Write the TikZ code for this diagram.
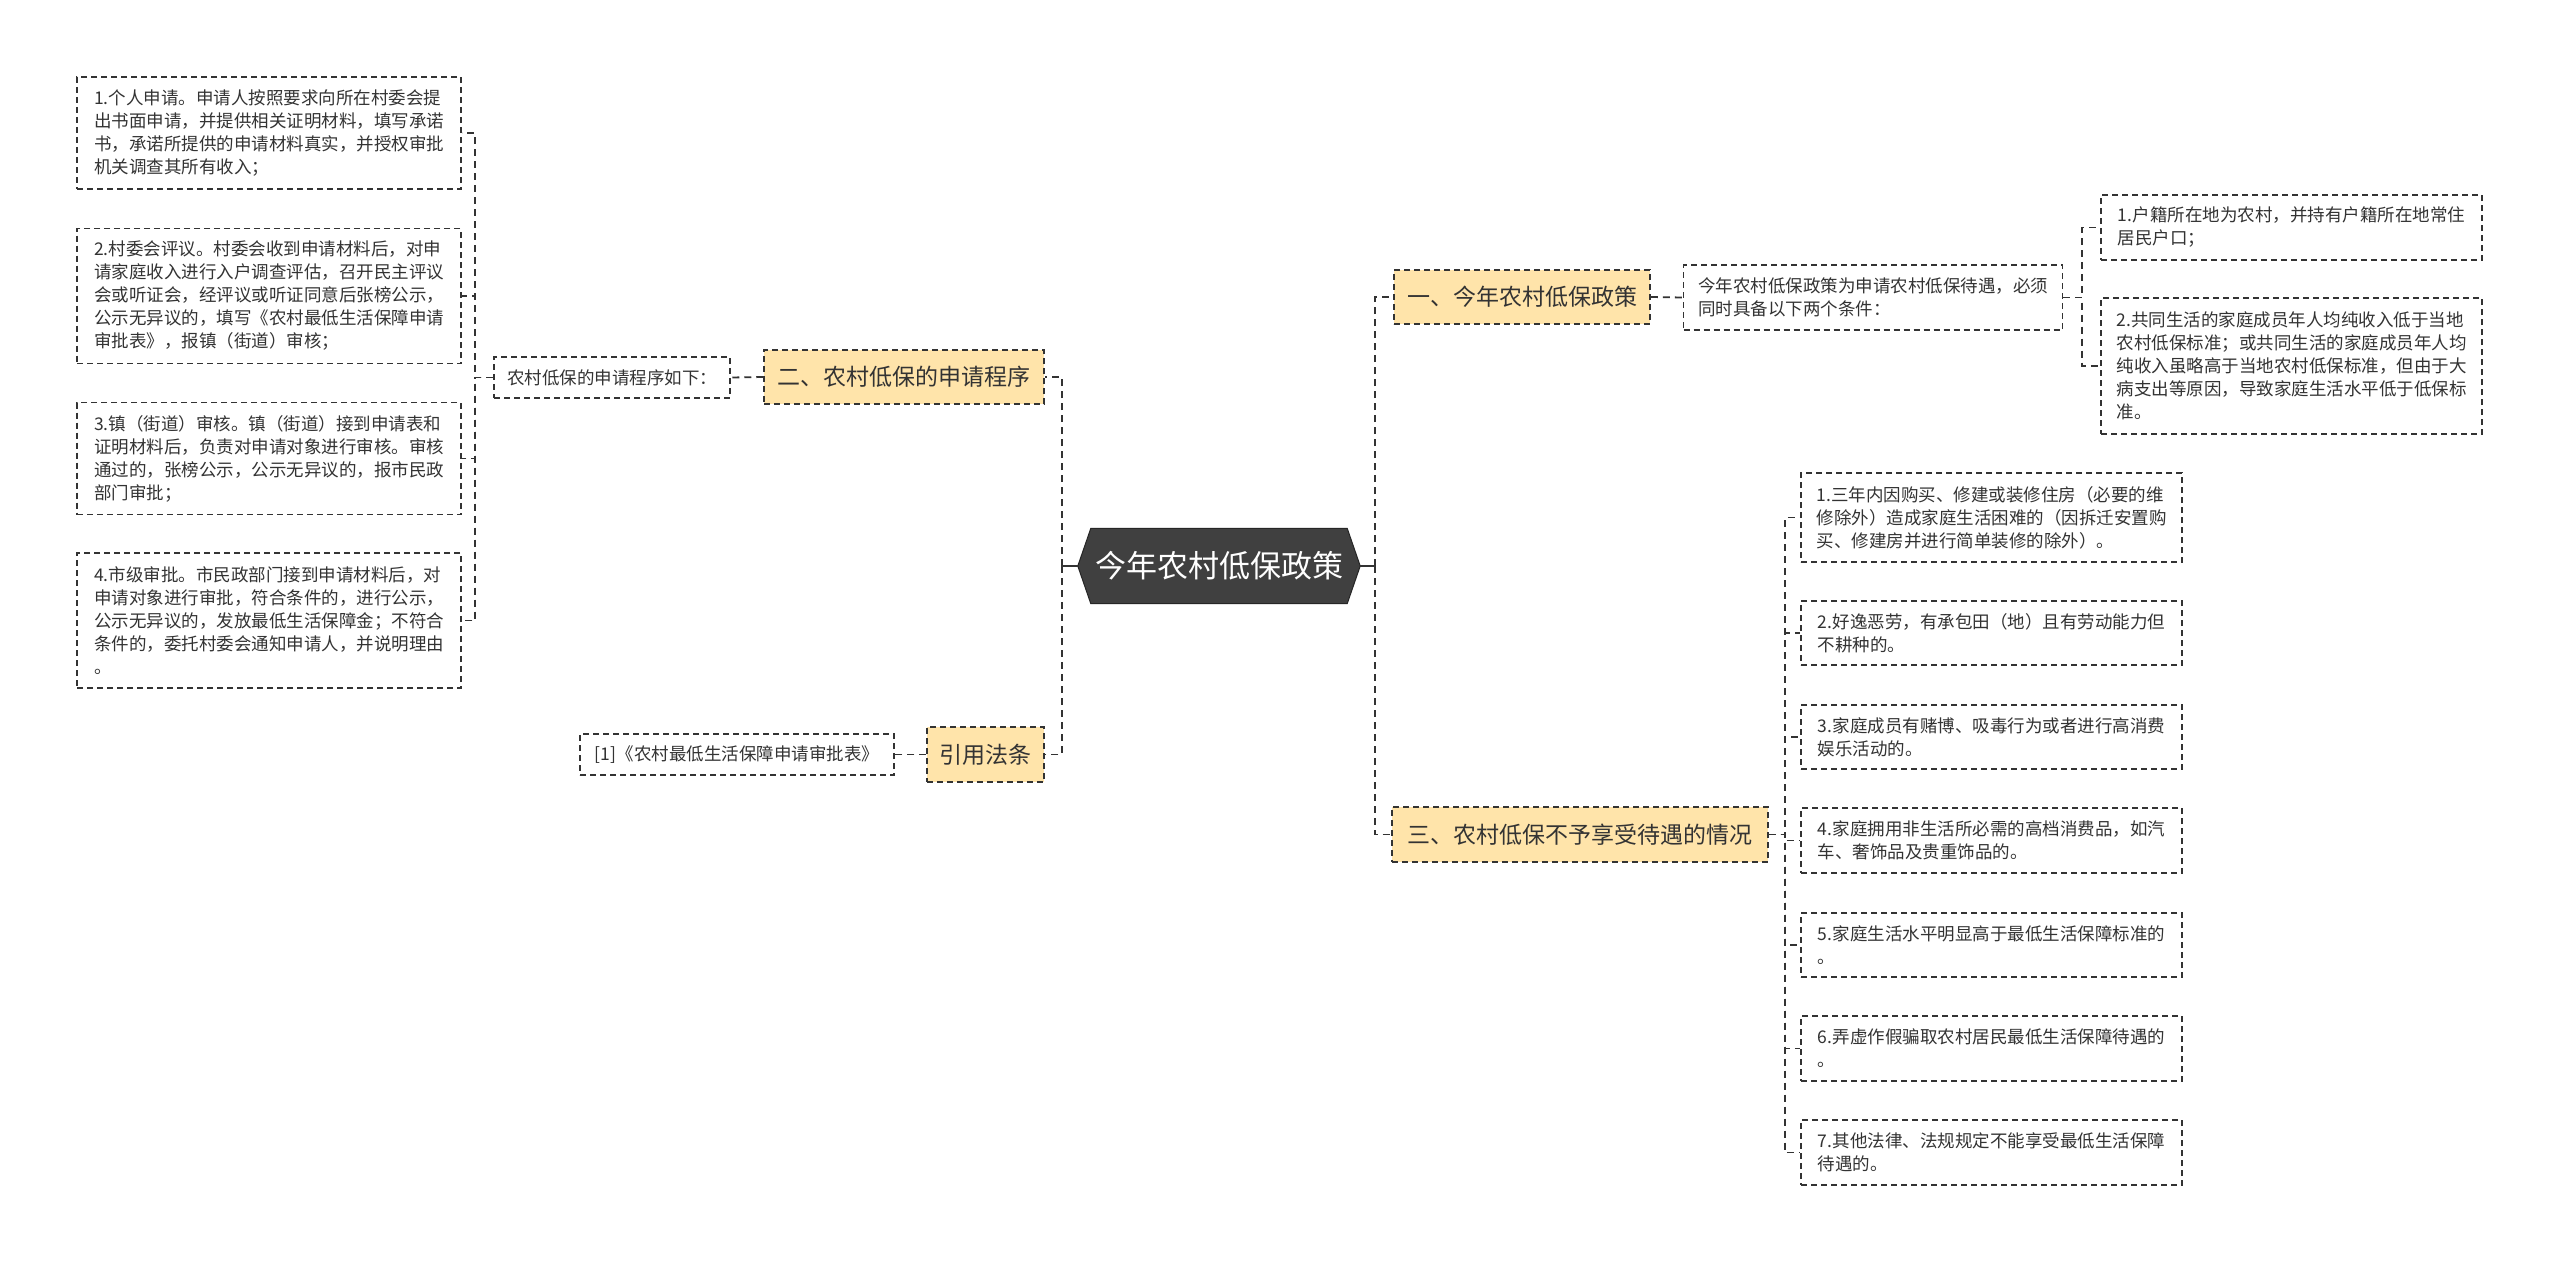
\documentclass[tikz,border=0pt]{standalone}
\usepackage{fontspec}
\setmainfont{Noto Sans CJK SC}
\definecolor{lineC}{HTML}{333333}
\definecolor{hiFill}{RGB}{255,228,170}
\definecolor{rootFill}{HTML}{404040}
\tikzset{
  conn/.style={draw=lineC, line width=1.8pt, dash pattern=on 7pt off 5pt},
  solidconn/.style={draw=lineC, line width=1.8pt},
  leaf/.style={draw=lineC, line width=1.5pt, dash pattern=on 6pt off 4pt, fill=white,
    inner sep=0pt, align=left, text=lineC, font=\fontsize{17.5}{23}\selectfont},
  topic/.style={draw=lineC, line width=1.5pt, dash pattern=on 6pt off 4pt, fill=hiFill,
    inner sep=0pt, align=center, text=lineC, font=\fontsize{23}{28}\selectfont},
}
\begin{document}
\begin{tikzpicture}[x=1pt, y=-1pt]
\useasboundingbox (0,0) rectangle (2560,1263);
\fill[white] (0,0) rectangle (2560,1263);

% root
\node[inner sep=0pt, minimum width=282pt, minimum height=75pt] (root) at (1219,566) {};
\fill[rootFill, draw=black!85, line width=1pt]
  ([xshift=13pt]root.north west) -- ([xshift=-13pt]root.north east) -- (root.east)
  -- ([xshift=-13pt]root.south east) -- ([xshift=13pt]root.south west) -- (root.west) -- cycle;
\node[text=white, font=\fontsize{31}{36}\selectfont] (roottext) at (root.center) {今年农村低保政策};

% left branch
\node[topic, minimum width=280pt, minimum height=54pt] (b2) at (904,377) {二、农村低保的申请程序};
\node[topic, minimum width=117pt, minimum height=55pt] (yin) at (985.5,754.5) {引用法条};
\node[leaf, minimum width=236pt, minimum height=41pt] (xia) at (612,377.5) {农村低保的申请程序如下：};
\node[leaf, minimum width=314pt, minimum height=41pt] (cite) at (737,754.5) {[1]《农村最低生活保障申请审批表》};

\node[leaf, minimum width=384pt, minimum height=112pt] (L1) at (269,133)
 {1.个人申请。申请人按照要求向所在村委会提\\出书面申请，并提供相关证明材料，填写承诺\\书，承诺所提供的申请材料真实，并授权审批\\机关调查其所有收入；};
\node[leaf, minimum width=384pt, minimum height=135pt] (L2) at (269,296)
 {2.村委会评议。村委会收到申请材料后，对申\\请家庭收入进行入户调查评估，召开民主评议\\会或听证会，经评议或听证同意后张榜公示，\\公示无异议的，填写《农村最低生活保障申请\\审批表》，报镇（街道）审核；};
\node[leaf, minimum width=384pt, minimum height=112pt] (L3) at (269,458.5)
 {3.镇（街道）审核。镇（街道）接到申请表和\\证明材料后，负责对申请对象进行审核。审核\\通过的，张榜公示，公示无异议的，报市民政\\部门审批；};
\node[leaf, minimum width=384pt, minimum height=135pt] (L4) at (269,620.5)
 {4.市级审批。市民政部门接到申请材料后，对\\申请对象进行审批，符合条件的，进行公示，\\公示无异议的，发放最低生活保障金；不符合\\条件的，委托村委会通知申请人，并说明理由\\。};

% right branch
\node[topic, minimum width=256pt, minimum height=54pt] (y1) at (1522,297) {一、今年农村低保政策};
\node[topic, minimum width=376pt, minimum height=55pt] (s3) at (1580,834.5) {三、农村低保不予享受待遇的情况};

\node[leaf, minimum width=379pt, minimum height=65pt] (cond) at (1873,297.5)
 {今年农村低保政策为申请农村低保待遇，必须\\同时具备以下两个条件：};
\node[leaf, minimum width=381pt, minimum height=65pt] (c1) at (2291.5,227.5)
 {1.户籍所在地为农村，并持有户籍所在地常住\\居民户口；};
\node[leaf, minimum width=381pt, minimum height=136pt] (c2) at (2291.5,366)
 {2.共同生活的家庭成员年人均纯收入低于当地\\农村低保标准；或共同生活的家庭成员年人均\\纯收入虽略高于当地农村低保标准，但由于大\\病支出等原因，导致家庭生活水平低于低保标\\准。};

\node[leaf, minimum width=381pt, minimum height=89pt] (i1) at (1991.5,517.5)
 {1.三年内因购买、修建或装修住房（必要的维\\修除外）造成家庭生活困难的（因拆迁安置购\\买、修建房并进行简单装修的除外）。};
\node[leaf, minimum width=381pt, minimum height=64pt] (i2) at (1991.5,633)
 {2.好逸恶劳，有承包田（地）且有劳动能力但\\不耕种的。};
\node[leaf, minimum width=381pt, minimum height=64pt] (i3) at (1991.5,737)
 {3.家庭成员有赌博、吸毒行为或者进行高消费\\娱乐活动的。};
\node[leaf, minimum width=381pt, minimum height=65pt] (i4) at (1991.5,840.5)
 {4.家庭拥用非生活所必需的高档消费品，如汽\\车、奢饰品及贵重饰品的。};
\node[leaf, minimum width=381pt, minimum height=64pt] (i5) at (1991.5,945)
 {5.家庭生活水平明显高于最低生活保障标准的\\。};
\node[leaf, minimum width=381pt, minimum height=65pt] (i6) at (1991.5,1048.5)
 {6.弄虚作假骗取农村居民最低生活保障待遇的\\。};
\node[leaf, minimum width=381pt, minimum height=65pt] (i7) at (1991.5,1152.5)
 {7.其他法律、法规规定不能享受最低生活保障\\待遇的。};

% connectors
\draw[solidconn] (root.west) -- ++(-16,0) coordinate (spl);
\draw[conn] (spl) |- (b2.east);
\draw[conn] (spl) |- (yin.east);
\draw[conn] (b2.west) -- (xia.east);
\draw[conn] (yin.west) -- (cite.east);
\foreach \n in {L1,L2,L3,L4} {\draw[conn] (xia.west) -- ++(-18,0) |- (\n.east);}

\draw[solidconn] (root.east) -- ++(15,0) coordinate (spr);
\draw[conn] (spr) |- (y1.west);
\draw[conn] (spr) |- (s3.west);
\draw[conn] (y1.east) -- (cond.west);
\foreach \n in {c1,c2} {\draw[conn] (cond.east) -- ++(19,0) |- (\n.west);}
\foreach \n in {i1,i2,i3,i4,i5,i6,i7} {\draw[conn] (s3.east) -- ++(16,0) |- (\n.west);}
\end{tikzpicture}
\end{document}
